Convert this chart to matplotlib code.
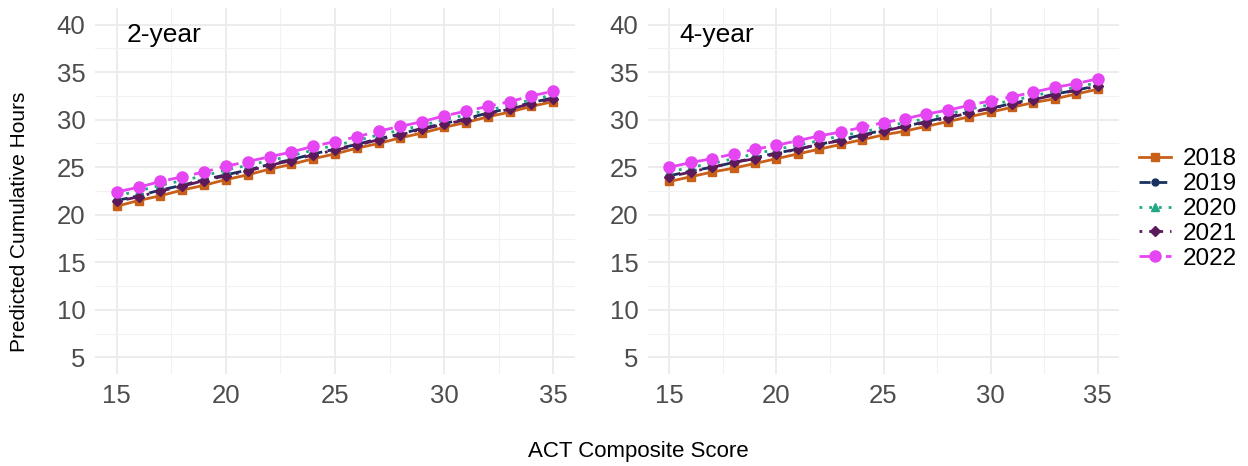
import numpy as np
import matplotlib
matplotlib.use("Agg")
import matplotlib.pyplot as plt
from matplotlib.ticker import MultipleLocator

plt.rcParams['font.family'] = ['Liberation Sans', 'DejaVu Sans']

# ── Data ──
act = list(range(15, 36))
years = ["2018", "2019", "2020", "2021", "2022"]

two_2018 = [20.9, 21.5, 22.0, 22.6, 23.1, 23.7, 24.2, 24.8, 25.3, 25.9, 26.4,
            27.0, 27.5, 28.1, 28.6, 29.2, 29.7, 30.3, 30.8, 31.4, 31.9]
two_2019 = [21.5, 22.0, 22.6, 23.1, 23.7, 24.2, 24.7, 25.3, 25.8, 26.4, 26.9,
            27.4, 28.0, 28.5, 29.1, 29.6, 30.1, 30.7, 31.2, 31.8, 32.3]
two_2020 = [22.0, 22.5, 23.1, 23.6, 24.1, 24.7, 25.2, 25.7, 26.2, 26.8, 27.3,
            27.8, 28.4, 28.9, 29.4, 30.0, 30.5, 31.0, 31.5, 32.1, 32.6]
two_2021 = [21.4, 21.9, 22.5, 23.0, 23.6, 24.1, 24.6, 25.2, 25.7, 26.3, 26.8,
            27.3, 27.9, 28.4, 29.0, 29.5, 30.0, 30.6, 31.1, 31.7, 32.2]
two_2022 = [22.4, 22.9, 23.5, 24.0, 24.5, 25.1, 25.6, 26.1, 26.6, 27.2, 27.7,
            28.2, 28.8, 29.3, 29.8, 30.4, 30.9, 31.4, 31.9, 32.5, 33.0]

four_2018 = [23.5, 24.0, 24.5, 24.9, 25.4, 25.9, 26.4, 26.9, 27.4, 27.9, 28.4,
             28.8, 29.3, 29.8, 30.3, 30.8, 31.3, 31.8, 32.2, 32.7, 33.2]
four_2019 = [24.1, 24.6, 25.0, 25.5, 26.0, 26.5, 26.9, 27.4, 27.9, 28.4, 28.9,
             29.3, 29.8, 30.3, 30.8, 31.2, 31.7, 32.2, 32.7, 33.1, 33.6]
four_2020 = [24.5, 25.0, 25.4, 25.9, 26.4, 26.9, 27.3, 27.8, 28.3, 28.7, 29.2,
             29.7, 30.1, 30.6, 31.1, 31.6, 32.0, 32.5, 33.0, 33.4, 33.9]
four_2021 = [24.0, 24.5, 25.0, 25.5, 25.9, 26.4, 26.9, 27.4, 27.8, 28.3, 28.8,
             29.3, 29.7, 30.2, 30.7, 31.2, 31.6, 32.1, 32.6, 33.1, 33.5]
four_2022 = [25.0, 25.5, 25.9, 26.4, 26.9, 27.3, 27.8, 28.3, 28.7, 29.2, 29.7,
             30.1, 30.6, 31.0, 31.5, 32.0, 32.4, 32.9, 33.4, 33.8, 34.3]

panels = [("2-year", [two_2018, two_2019, two_2020, two_2021, two_2022]),
          ("4-year", [four_2018, four_2019, four_2020, four_2021, four_2022])]

# ── Styles ──
styles = {
    "2018": dict(color="#C8601A", ls="-", marker="s", ms=6),
    "2019": dict(color="#17305E", ls=(0, (4, 2)), marker="o", ms=5),
    "2020": dict(color="#22A884", ls=(0, (1, 2.5)), marker="^", ms=6),
    "2021": dict(color="#5A1A5C", ls=(0, (1, 2.5, 5, 2.5)), marker="D", ms=5),
    "2022": dict(color="#E545F2", ls=(0, (7, 2.5)), marker="o", ms=8),
}

fig = plt.figure(figsize=(12.48, 4.66), dpi=100)
W, H = 1248, 466
axes_px = [(95, 575), (648, 1119)]
top_px, bot_px = 8, 374

for (label, series), (x0, x1) in zip(panels, axes_px):
    ax = fig.add_axes([x0 / W, 1 - bot_px / H, (x1 - x0) / W, (bot_px - top_px) / H])
    for yr, vals in zip(years, series):
        s = styles[yr]
        ax.plot(act, vals, color=s["color"], ls=s["ls"], lw=2, marker=s["marker"],
                ms=s["ms"], label=yr, zorder=3)
    ax.set_xlim(14, 36)
    ax.set_ylim(3.25, 41.75)
    ax.xaxis.set_major_locator(MultipleLocator(5))
    ax.xaxis.set_minor_locator(MultipleLocator(2.5))
    ax.yaxis.set_major_locator(MultipleLocator(5))
    ax.yaxis.set_minor_locator(MultipleLocator(2.5))
    ax.set_yticks(np.arange(5, 41, 5))
    ax.grid(which="major", color="#EBEBEB", lw=1.3)
    ax.grid(which="minor", color="#F2F2F2", lw=0.8)
    ax.set_axisbelow(True)
    for sp in ax.spines.values():
        sp.set_visible(False)
    ax.tick_params(which="both", length=0, labelsize=18.5, labelcolor="#4D4D4D", pad=7)
    ax.text(15.45, 38.9, label, fontsize=19, va="center", ha="left", color="black")
    if x0 == 95:
        handles, labels = ax.get_legend_handles_labels()

fig.text(20 / W, 1 - 222 / H, "Predicted Cumulative Hours", rotation=90,
         fontsize=15, va="center", ha="center")
fig.text(638 / W, 1 - 452 / H, "ACT Composite Score", fontsize=16,
         va="center", ha="center")

fig.legend(handles, labels, loc="center left", bbox_to_anchor=(1139 / W, 1 - 209 / H),
           frameon=False, fontsize=17.5, handlelength=1.3, handletextpad=0.5,
           labelspacing=0.12, borderaxespad=0, borderpad=0)

fig.savefig("out.png", dpi=100)
